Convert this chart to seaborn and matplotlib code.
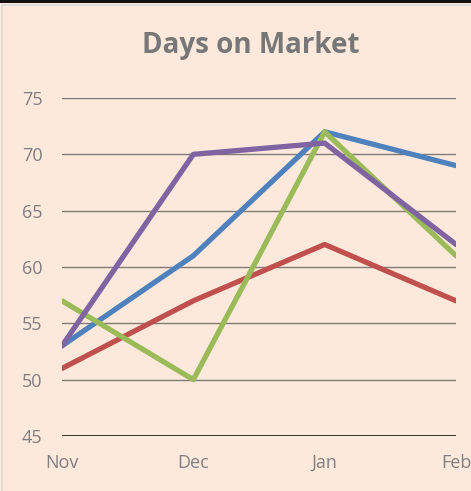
import pandas as pd
import seaborn as sns
import matplotlib.pyplot as plt
from matplotlib.patches import Rectangle

months = ['Nov', 'Dec', 'Jan', 'Feb']
series_names = ['Series A', 'Series B', 'Series C', 'Series D']
blue_vals = [53, 61, 72, 69]
red_vals = [51, 57, 62, 57]
green_vals = [57, 50, 72, 61]
purple_vals = [53, 70, 71, 62]
y_ticks = [45, 50, 55, 60, 65, 70, 75]

colors = ['#4F81BD', '#C0504D', '#9BBB59', '#8064A2']
bg = '#FDE9DB'

rows = []
for name, vals in zip(series_names, [blue_vals, red_vals, green_vals, purple_vals]):
    for i, (m, v) in enumerate(zip(months, vals)):
        rows.append({'series': name, 'month': m, 'pos': i, 'days': v})
df = pd.DataFrame(rows)

sns.set_style('white')
plt.rcParams['font.family'] = ['Open Sans', 'DejaVu Sans']

fig = plt.figure(figsize=(4.71, 4.91), dpi=100)
fig.patch.set_facecolor(bg)
ax = fig.add_axes([62 / 471, 55 / 491, 394 / 471, 338 / 491])
ax.set_facecolor(bg)

# grid lines
for t in y_ticks:
    ax.axhline(t, color='black' if t == 45 else '#7F7A74', lw=1.1 if t == 45 else 1.0, zorder=1)

sns.lineplot(data=df, x='pos', y='days', hue='series', palette=colors,
             linewidth=3.8, ax=ax, legend=False, zorder=3)

ax.set_xlim(0, 3)
ax.set_ylim(45, 75)
ax.set_xticks(range(len(months)))
ax.set_xticklabels(months)
ax.set_yticks(y_ticks)
ax.tick_params(axis='both', length=0, labelsize=13, labelcolor='#7F7F7F')
ax.tick_params(axis='x', pad=13)
ax.tick_params(axis='y', pad=14)
ax.set_xlabel('')
ax.set_ylabel('')
for s in ax.spines.values():
    s.set_visible(False)

fig.text(251 / 471, 1 - 46 / 491, 'Days on Market', ha='center', va='center',
         fontsize=20, fontweight='bold', color='#777777')

# frame bits of the cropped screenshot
fig.patches.append(Rectangle((0, 1 - 3 / 491), 1, 3 / 491, transform=fig.transFigure,
                             facecolor='#111111', edgecolor='none'))
fig.patches.append(Rectangle((2 / 471, -0.01), 2, 1 - 5 / 491 + 0.01, transform=fig.transFigure,
                             facecolor='none', edgecolor='#D9D9D9', lw=1.2))

fig.savefig('out.png', dpi=100, facecolor=bg)
